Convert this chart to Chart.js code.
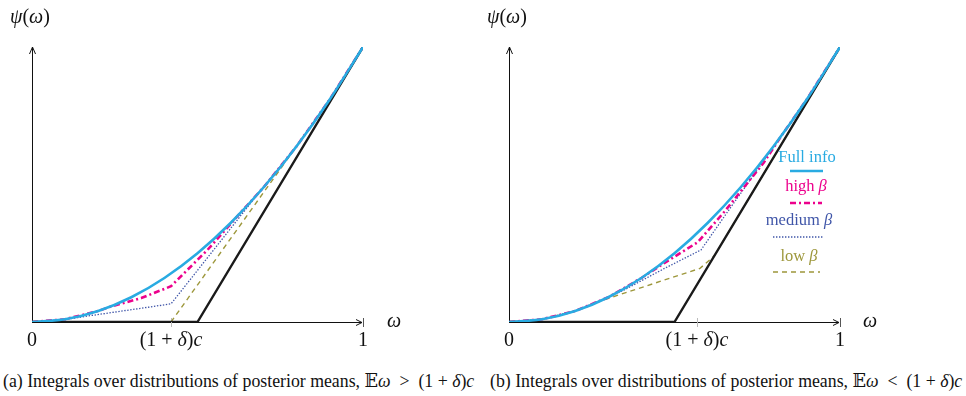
<!DOCTYPE html>
<html lang="en">
<head>
<meta charset="UTF-8">
<title>Integrals over distributions of posterior means</title>
<script src="https://cdn.jsdelivr.net/npm/chart.js"></script>
<style>
  body { margin: 0; background: #fff; }
  #page { position: relative; width: 966px; height: 396px; font-family: "Liberation Serif", "Times New Roman", "DejaVu Serif", serif; color: #111; }
  canvas { position: absolute; top: 0; }
  .lbl { position: absolute; white-space: nowrap; line-height: 20px; }
  .axis-y { font-size: 20px; }
  .axis-x { font-size: 20px; }
  .cap { font-size: 17.8px; top: 371px; }
</style>
</head>
<body>
<div id="page">
  <canvas id="chartA" width="483" height="360" style="left:0"></canvas>
  <canvas id="chartB" width="483" height="360" style="left:483px"></canvas>

  <div class="lbl axis-y" style="left:10px; top:6px"><i>ψ</i>(<i>ω</i>)</div>
  <div class="lbl axis-y" style="left:487px; top:6px"><i>ψ</i>(<i>ω</i>)</div>
  <div class="lbl axis-x" style="left:387px; top:310px"><i>ω</i></div>
  <div class="lbl axis-x" style="left:863px; top:310px"><i>ω</i></div>

  <div class="lbl cap" style="left:3px">(a) Integrals over distributions of posterior means, &#x1D53C;<i>ω</i> &nbsp;&gt;&nbsp; (1 + <i>δ</i>)<i>c</i></div>
  <div class="lbl cap" style="left:490px">(b) Integrals over distributions of posterior means, &#x1D53C;<i>ω</i> &nbsp;&lt;&nbsp; (1 + <i>δ</i>)<i>c</i></div>
</div>

<script>
// ---- data ----
const tickNames = ['0', '(1+δ)c', '1'];
const ticksA = [0, 0.42, 1];
const ticksB = [0, 0.568, 1];

// full information curve, same in both panels
const fullW   = [0, 0.1, 0.2, 0.3, 0.4, 0.5, 0.6, 0.7, 0.8, 0.9, 1];
const fullPsi = [0, 0.01, 0.04, 0.09, 0.16, 0.25, 0.36, 0.49, 0.64, 0.81, 1];

// no information: max(0, ...) line
const noneW   = [0, 0.5, 1];
const nonePsi = [0, 0, 1];

// panel (a)
const highWA   = [0, 0.1, 0.2, 0.24, 0.33, 0.42, 0.53, 0.62, 0.7, 0.8, 0.9, 1];
const highPsiA = [0, 0.01, 0.04, 0.057, 0.087, 0.13, 0.262, 0.384, 0.49, 0.64, 0.81, 1];
const medWA    = [0, 0.1, 0.17, 0.25, 0.33, 0.42, 0.68, 0.8, 0.9, 1];
const medPsiA  = [0, 0.009, 0.022, 0.036, 0.05, 0.066, 0.462, 0.64, 0.81, 1];
const lowWA    = [0.42, 0.8, 0.9, 1];
const lowPsiA  = [0, 0.64, 0.81, 1];

// panel (b)
const highWB   = [0, 0.1, 0.2, 0.3, 0.4, 0.47, 0.57, 0.65, 0.77, 0.82, 0.9, 1];
const highPsiB = [0, 0.01, 0.04, 0.09, 0.16, 0.215, 0.29, 0.4, 0.58, 0.672, 0.81, 1];
const medWB    = [0, 0.1, 0.2, 0.3, 0.35, 0.47, 0.58, 0.66, 0.82, 0.9, 1];
const medPsiB  = [0, 0.01, 0.04, 0.09, 0.118, 0.195, 0.262, 0.4, 0.672, 0.81, 1];
const lowWB    = [0, 0.1, 0.2, 0.28, 0.577, 0.62, 1];
const lowPsiB  = [0, 0.01, 0.04, 0.078, 0.195, 0.24, 1];

const legendNames = ['Full info', 'high β', 'medium β', 'low β'];

// ---- styles ----
const BLUE = '#29abe2', PINK = '#ec008c', NAVY = '#3f55a8', OLIVE = '#9d973b';
const SERIF = '"Liberation Serif", "Times New Roman", "DejaVu Serif", serif';

function pts(w, p) { return w.map((x, i) => ({ x: x, y: p[i] })); }

function datasets(hw, hp, mw, mp, lw, lp) {
  return [
    { label: legendNames[0], data: pts(fullW, fullPsi), borderColor: BLUE, borderWidth: 2.6, cubicInterpolationMode: 'monotone' },
    { label: 'none', data: pts(noneW, nonePsi), borderColor: '#1a1a1a', borderWidth: 2.4 },
    { label: legendNames[1], data: pts(hw, hp), borderColor: PINK, borderWidth: 2.6, borderDash: [6, 3, 2, 3] },
    { label: legendNames[2], data: pts(mw, mp), borderColor: NAVY, borderWidth: 1.3, borderDash: [1.4, 1.6] },
    { label: legendNames[3], data: pts(lw, lp), borderColor: OLIVE, borderWidth: 1.4, borderDash: [5, 4] }
  ];
}

// axes with arrows, tick marks and tick labels drawn from the x scale
const axesPlugin = {
  id: 'axes',
  beforeDatasetsDraw(chart, args, opts) {
    const { ctx, chartArea: a, scales } = chart;
    const x = scales.x;
    ctx.save();
    ctx.strokeStyle = '#111';
    ctx.lineWidth = 1;
    ctx.beginPath();
    ctx.moveTo(a.left, a.bottom + 0.5); ctx.lineTo(a.right - 1, a.bottom + 0.5);
    ctx.moveTo(a.left + 0.5, a.bottom); ctx.lineTo(a.left + 0.5, a.top);
    // arrow heads
    ctx.moveTo(a.right - 7, a.bottom - 2.5); ctx.lineTo(a.right - 1, a.bottom + 0.5); ctx.lineTo(a.right - 7, a.bottom + 3.5);
    ctx.moveTo(a.left - 2.5, a.top + 7); ctx.lineTo(a.left + 0.5, a.top); ctx.lineTo(a.left + 3.5, a.top + 7);
    ctx.stroke();
    // tick marks
    opts.ticks.forEach((v, i) => {
      if (i === 0) return;
      const px = Math.round(x.getPixelForValue(v)) + 0.5;
      ctx.strokeStyle = i === opts.ticks.length - 1 ? '#555' : '#bbb';
      ctx.beginPath();
      ctx.moveTo(px, a.bottom - 4); ctx.lineTo(px, a.bottom + 5);
      ctx.stroke();
    });
    // tick labels
    ctx.fillStyle = '#111';
    ctx.textBaseline = 'middle';
    opts.ticks.forEach((v, i) => {
      const px = x.getPixelForValue(v);
      const name = tickNames[i];
      const parts = name === '(1+δ)c'
        ? [['(1 + ', false], ['δ', true], [')', false], ['c', true]]
        : [[name, false]];
      let w = 0;
      parts.forEach(p => { ctx.font = (p[1] ? 'italic ' : '') + '20px ' + SERIF; w += ctx.measureText(p[0]).width; });
      let cx = px - w / 2;
      ctx.textAlign = 'left';
      parts.forEach(p => {
        ctx.font = (p[1] ? 'italic ' : '') + '20px ' + SERIF;
        ctx.fillText(p[0], cx, a.bottom + 19);
        cx += ctx.measureText(p[0]).width;
      });
    });
    ctx.restore();
  }
};

// stacked legend of panel (b): name above a sample of the line
const stackLegend = {
  id: 'stackLegend',
  afterDraw(chart, args, opts) {
    if (!opts.items) return;
    const { ctx } = chart;
    ctx.save();
    ctx.textAlign = 'left';
    ctx.textBaseline = 'middle';
    opts.items.forEach(it => {
      const ds = chart.data.datasets[it.ds];
      const label = ds.label;
      const base = label.endsWith(' β') ? label.slice(0, -1) : label;
      ctx.font = '16.5px ' + SERIF;
      const w = ctx.measureText(base).width;
      ctx.font = 'italic 16.5px ' + SERIF;
      const wb = base === label ? 0 : ctx.measureText('β').width;
      const cx = it.tx - (w + wb) / 2;
      ctx.fillStyle = ds.borderColor;
      ctx.font = '16.5px ' + SERIF;
      ctx.fillText(base, cx, it.ty);
      if (wb) { ctx.font = 'italic 16.5px ' + SERIF; ctx.fillText('β', cx + w, it.ty); }
      ctx.strokeStyle = ds.borderColor;
      ctx.lineWidth = ds.borderWidth;
      ctx.setLineDash(ds.borderDash || []);
      ctx.beginPath();
      ctx.moveTo(it.x0, it.ly); ctx.lineTo(it.x1, it.ly);
      ctx.stroke();
      ctx.setLineDash([]);
    });
    ctx.restore();
  }
};

function makeChart(id, sets, ticks, pad, legendItems) {
  return new Chart(document.getElementById(id), {
    type: 'line',
    data: { datasets: sets },
    options: {
      responsive: false,
      animation: false,
      layout: { padding: pad },
      elements: { point: { radius: 0 }, line: { tension: 0, fill: false } },
      scales: {
        x: { type: 'linear', min: 0, max: 1, display: false },
        y: { type: 'linear', min: 0, max: 1, display: false }
      },
      plugins: {
        legend: { display: false },
        tooltip: { enabled: false },
        axes: { ticks: ticks },
        stackLegend: { items: legendItems }
      }
    },
    plugins: [axesPlugin, stackLegend]
  });
}

makeChart('chartA', datasets(highWA, highPsiA, medWA, medPsiA, lowWA, lowPsiA), ticksA,
  { left: 32, right: 120, top: 47, bottom: 38 }, null);

makeChart('chartB', datasets(highWB, highPsiB, medWB, medPsiB, lowWB, lowPsiB), ticksB,
  { left: 26, right: 126, top: 47, bottom: 38 }, [
    { ds: 0, tx: 324, ty: 158, x0: 307, x1: 340, ly: 171 },
    { ds: 2, tx: 323, ty: 187, x0: 307, x1: 339, ly: 203 },
    { ds: 3, tx: 316, ty: 221, x0: 290, x1: 340, ly: 237 },
    { ds: 4, tx: 316, ty: 257, x0: 290, x1: 337, ly: 272 }
  ]);
</script>
</body>
</html>
